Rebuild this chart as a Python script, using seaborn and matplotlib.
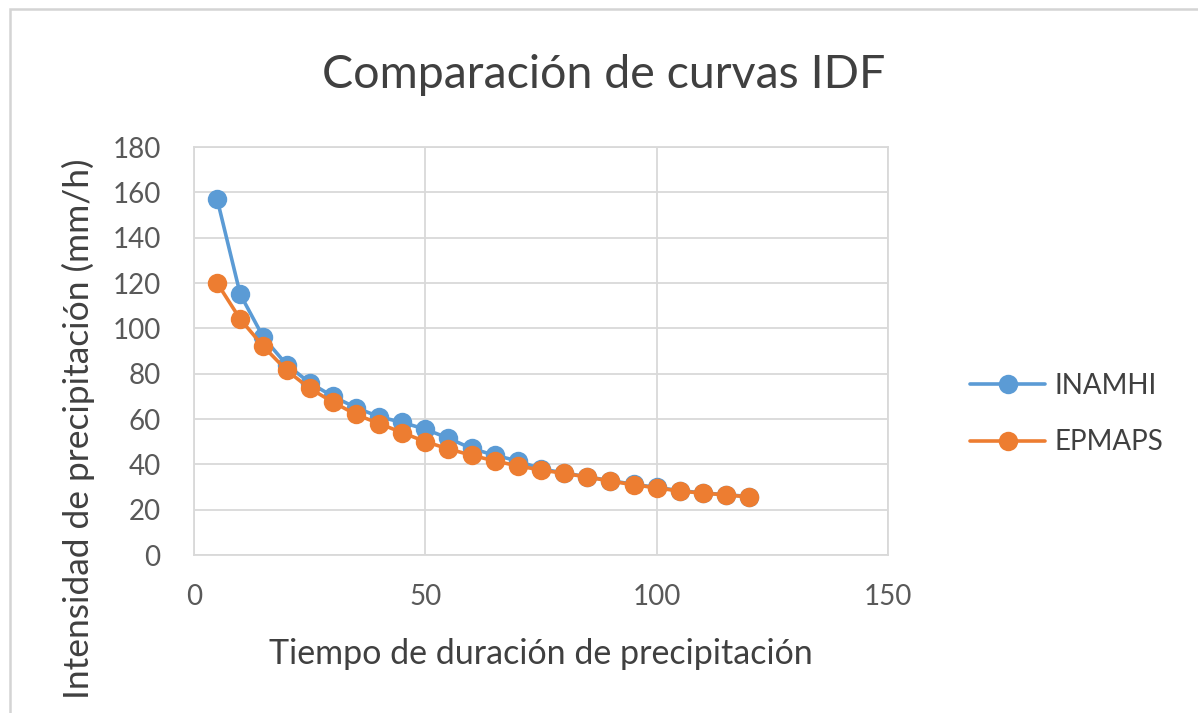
import matplotlib
matplotlib.use("Agg")
import matplotlib.pyplot as plt
import seaborn as sns
import pandas as pd
from matplotlib.patches import Rectangle

duracion = [5, 10, 15, 20, 25, 30, 35, 40, 45, 50, 55, 60, 65, 70, 75, 80, 85, 90, 95, 100, 105, 110, 115, 120]
inamhi = [157, 115, 96, 84, 76, 70, 65, 61, 58.5, 55.5, 51.5, 47, 44, 41.5, 38, 36.2, 34.5, 32.8, 31.2, 29.8, 28.4, 27.4, 26.6, 25.8]
epmaps = [120, 104, 92, 81.5, 73.5, 67.5, 62, 58, 54, 50, 46.8, 44, 41.5, 39.3, 37.5, 36, 34.4, 32.6, 31, 29.6, 28.2, 27.3, 26.5, 25.6]
series_names = ["INAMHI", "EPMAPS"]
colors = ["#5B9BD5", "#ED7D31"]

df = pd.concat([
    pd.DataFrame({"x": duracion, "y": inamhi, "serie": series_names[0]}),
    pd.DataFrame({"x": duracion, "y": epmaps, "serie": series_names[1]}),
])

sns.set_theme(style="white")
plt.rcParams["font.family"] = ["Lato", "DejaVu Sans"]

fig = plt.figure(figsize=(11.98, 7.13), dpi=100)
ax = fig.add_axes([194/1198, 1-555/713, (888-194)/1198, (555-147)/713])

sns.lineplot(data=df, x="x", y="y", hue="serie", palette=colors, marker="o",
             markersize=14, linewidth=2.6, markeredgewidth=0, ax=ax, legend=True)

ax.set_xlim(0, 150)
ax.set_ylim(0, 180)
ax.set_xticks([0, 50, 100, 150])
ax.set_yticks(range(0, 181, 20))
ax.grid(True, color="#D9D9D9", linewidth=1.3)
for s in ax.spines.values():
    s.set_color("#D9D9D9")
    s.set_linewidth(1.3)
ax.tick_params(axis="y", labelsize=20, colors="#595959", length=0, pad=24)
ax.tick_params(axis="x", labelsize=20, colors="#595959", length=0, pad=21)

ax.set_xlabel("Tiempo de duración de precipitación", fontsize=24.5, color="#404040", labelpad=20)
ax.set_ylabel("Intensidad de precipitación (mm/h)", fontsize=25.5, color="#404040")
ax.yaxis.set_label_coords(-0.143, 0.31)
fig.text(604/1198, 1-75/713, "Comparación de curvas IDF", fontsize=33.5, color="#404040",
         ha="center", va="center")

h, l = ax.get_legend_handles_labels()
ax.get_legend().remove()
leg = fig.legend(h, l, loc="center left", bbox_to_anchor=(945/1198, 1-414/713), frameon=False,
                 fontsize=20, labelcolor="#404040", handlelength=2.7, labelspacing=1.1, handletextpad=0.35)

fig.patches.append(Rectangle((10/1198, -0.1), 1.2, 1.1 - 9/713, transform=fig.transFigure,
                             fill=False, edgecolor="#D4D4D4", linewidth=1.8))

fig.savefig("out.png", dpi=100, facecolor="white")
